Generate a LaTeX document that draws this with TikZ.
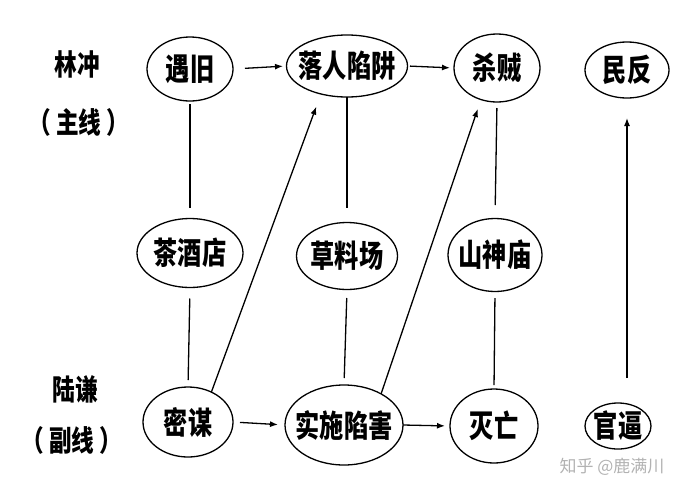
\documentclass[tikz,border=0pt]{standalone}
\usepackage{fontspec}
\newfontfamily\cjk[FakeStretch=0.78]{Noto Sans CJK SC}
\newfontfamily\cjkwm{Noto Sans CJK SC}
\usetikzlibrary{arrows.meta,shapes.geometric}
\begin{document}
\begin{tikzpicture}[x=1pt,y=-1pt,
  ell/.style={draw,ellipse,line width=1.3pt,inner sep=0pt,outer sep=0pt,
    font=\cjk\bfseries\fontsize{31}{31}\selectfont},
  side/.style={font=\cjk\bfseries\fontsize{29}{29}\selectfont,inner sep=0pt},
  link/.style={line width=1.3pt},
  arr/.style={line width=1.3pt,-{Latex[length=8pt,width=6pt]}},
  wm/.style={font=\cjkwm\fontsize{17}{17}\selectfont,text=black!30,inner sep=0pt}]
\useasboundingbox (0,0) rectangle (685,496);
% side labels
\node[side] (lc) at (77,64) {林冲};
\node[side] (zx) at (79,122) {（\,主线\,）};
\node[side] (lq) at (75,389) {陆谦};
\node[side] (fx) at (72,440) {（\,副线\,）};
% top row
\node[ell,minimum width=86,minimum height=64] (yj) at (190,69) {\makebox[0pt]{遇旧}};
\node[ell,minimum width=121,minimum height=62] (lrxj) at (347,66) {\makebox[0pt]{落人陷阱}};
\node[ell,minimum width=86,minimum height=68] (sz) at (497,68) {\makebox[0pt]{杀贼}};
\node[ell,minimum width=84,minimum height=56] (mf) at (627,70) {\makebox[0pt]{民反}};
% middle row
\node[ell,minimum width=106,minimum height=69] (cjd) at (190,253) {\makebox[0pt]{茶酒店}};
\node[ell,minimum width=101,minimum height=67] (clc) at (347,256) {\makebox[0pt]{草料场}};
\node[ell,minimum width=94,minimum height=73] (ssm) at (495,255) {\makebox[0pt]{山神庙}};
% bottom row
\node[ell,minimum width=90,minimum height=70] (mm) at (188,422) {\makebox[0pt]{密谋}};
\node[ell,minimum width=118,minimum height=80] (ssxh) at (344,425) {\makebox[0pt]{实施陷害}};
\node[ell,minimum width=88,minimum height=74] (mw) at (494,426) {\makebox[0pt]{灭亡}};
\node[ell,minimum width=66,minimum height=46] (gb) at (618,426) {\makebox[0pt]{官逼}};
% watermark
\node[wm] (wmk) at (612,467) {知乎 @鹿满川};
% horizontal arrows
\draw[arr,shorten <=12pt,shorten >=3.5pt] (yj.east) -- (lrxj.west);
\draw[arr,shorten <=2.5pt,shorten >=4pt] (lrxj.east) -- (sz.west);
\draw[arr,shorten <=7pt,shorten >=7pt] (mm.east) -- (ssxh.west);
\draw[arr,shorten <=0pt,shorten >=5pt] (ssxh.east) -- (mw.west);
% vertical links
\draw[link,shorten <=3pt,shorten >=10.5pt] (yj.south) -- (cjd.north);
\draw[link,shorten <=11pt,shorten >=7pt] (cjd.south) -- (mm.north);
\draw[link,shorten <=0pt,shorten >=14.5pt] (lrxj.south) -- (clc.north);
\draw[link,shorten <=8.5pt,shorten >=7pt] (clc.south) -- (ssxh.north);
\draw[link,shorten <=6pt,shorten >=13.5pt] (sz.south) -- (ssm.north);
\draw[link,shorten <=6.5pt,shorten >=4pt] (ssm.south) -- (mw.north);
% diagonal arrows
\draw[arr,shorten >=13.5pt] (mm.52) -- (lrxj.227);
\draw[arr,shorten >=10pt] (ssxh.40) -- (sz.243);
% vertical arrow
\draw[arr,shorten <=25pt,shorten >=20pt] (gb.north -| mf.south) -- (mf.south);
\end{tikzpicture}
\end{document}
